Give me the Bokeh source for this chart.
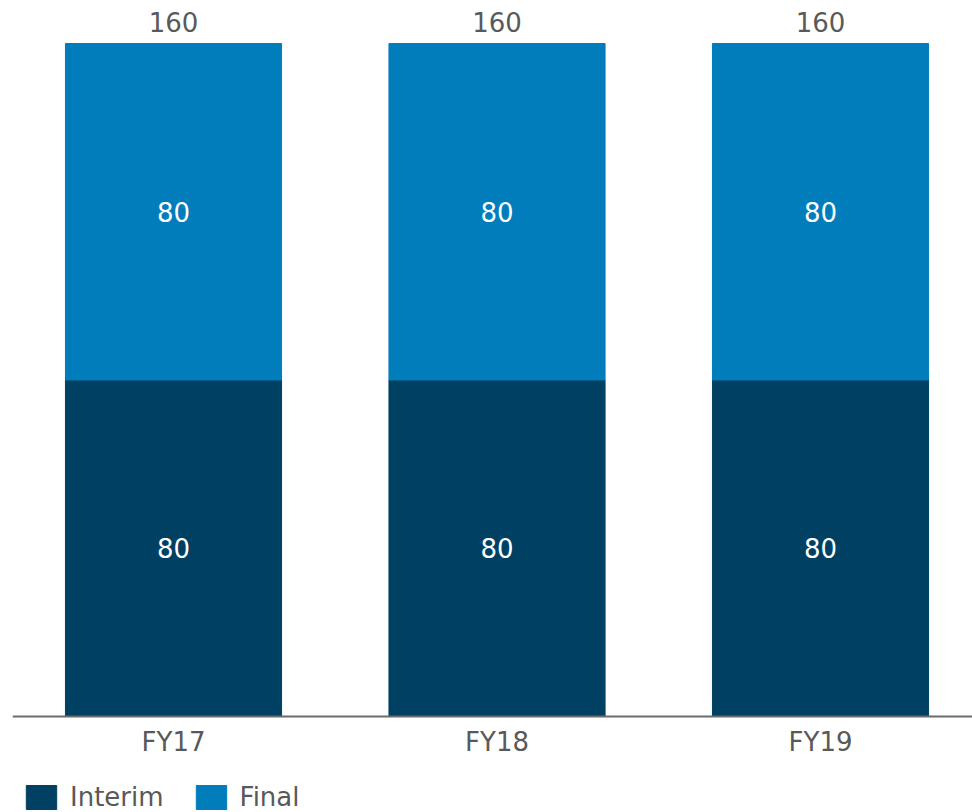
from bokeh.plotting import figure
from bokeh.models import ColumnDataSource, FixedTicker, Legend, LegendItem, LabelSet
from bokeh.core.properties import value
from bokeh.embed import file_html
from bokeh.resources import INLINE

categories = ["FY17", "FY18", "FY19"]
interim = [80, 80, 80]
final = [80, 80, 80]

DARK = "#004063"
LIGHT = "#007DBA"
GRAY = "#595959"
FONT = "DejaVu Sans"

xs = list(range(len(categories)))
totals = [a + b for a, b in zip(interim, final)]
src = ColumnDataSource(dict(
    x=xs, interim=interim, final=final, total=totals,
    imid=[v / 2 for v in interim],
    fmid=[a + b / 2 for a, b in zip(interim, final)],
    ilab=[str(v) for v in interim], flab=[str(v) for v in final],
    tlab=[str(v) for v in totals],
))

p = figure(width=972, height=812, output_backend="svg", toolbar_location=None,
           x_range=(-0.4977, 2.4698), y_range=(-22.82, 170.22),
           min_border_left=12, min_border_right=0, min_border_top=0, min_border_bottom=0)
p.outline_line_color = None
p.xgrid.visible = False
p.ygrid.visible = False
p.yaxis.visible = False
p.background_fill_color = "white"
p.border_fill_color = "white"

w = 0.668
r1 = p.vbar(x="x", bottom=0, top="interim", width=w, color=DARK, source=src)
r2 = p.vbar(x="x", bottom="interim", top="total", width=w, color=LIGHT, source=src)

for ycol, tcol, color, yoff, base in [("imid", "ilab", "white", 0, "middle"),
                                      ("fmid", "flab", "white", 0, "middle"),
                                      ("total", "tlab", GRAY, 11, "alphabetic")]:
    p.add_layout(LabelSet(x="x", y=ycol, text=tcol, source=src, text_color=color,
                          text_font=value(FONT), text_font_size="26px", text_align="center",
                          text_baseline=base, y_offset=yoff))

ax = p.xaxis[0]
ax.fixed_location = 0
ax.ticker = FixedTicker(ticks=xs)
ax.major_label_overrides = {i: c for i, c in zip(xs, categories)}
ax.major_label_text_font = FONT
ax.major_label_text_font_size = "26px"
ax.major_label_text_color = GRAY
ax.major_label_standoff = 4
ax.major_tick_line_color = None
ax.minor_tick_line_color = None
ax.axis_line_color = "#6b6b6b"
ax.axis_line_width = 2

legend = Legend(items=[LegendItem(label="Interim", renderers=[r1]),
                       LegendItem(label="Final", renderers=[r2])],
                orientation="horizontal", location=(10, 0),
                label_text_font=FONT, label_text_font_size="26px",
                label_text_color=GRAY, glyph_width=38, glyph_height=30,
                label_standoff=10, spacing=28, padding=0, margin=0,
                border_line_color=None, background_fill_alpha=0)
p.add_layout(legend)

open("out.html", "w").write(file_html(p, INLINE))
